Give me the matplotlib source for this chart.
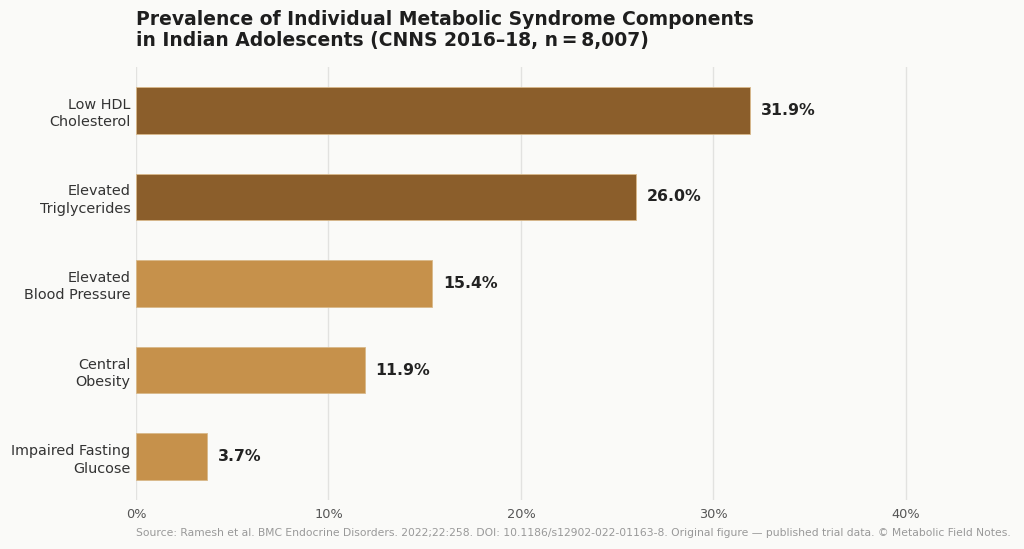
import matplotlib
matplotlib.use("Agg")
import matplotlib.pyplot as plt
import numpy as np

categories = ["Low HDL\nCholesterol", "Elevated\nTriglycerides", "Elevated\nBlood Pressure",
              "Central\nObesity", "Impaired Fasting\nGlucose"]
values = [31.9, 26.0, 15.4, 11.9, 3.7]
highlight = [True, True, False, False, False]
xticks = [0, 10, 20, 30, 40]

dark = "#8B5E2B"
light = "#C6914B"
bg = "#FAFAF8"

fig = plt.figure(figsize=(10.24, 5.49), dpi=100, facecolor=bg)
ax = fig.add_axes([136/1024, 1 - 500/549, 866/1024, 433/549], facecolor=bg)

y = np.arange(len(categories))
colors = [dark if h else light for h in highlight]
ax.barh(y, values, height=0.54, color=colors, edgecolor="#D9B98A", linewidth=0.6, zorder=3)

# value labels at bar ends
for yi, v in zip(y, values):
    ax.text(v + 0.55, yi, f"{v:.1f}%", va="center", ha="left",
            fontsize=11.3, fontweight="bold", color="#222222")

ax.set_ylim(4.5, -0.5)
ax.set_xlim(0, 45)
ax.set_yticks(y)
ax.set_yticklabels(categories, fontsize=10.4, color="#333333", linespacing=1.3)
ax.set_xticks(xticks)
ax.set_xticklabels([f"{t}%" for t in xticks], fontsize=9.3, color="#555555")
ax.tick_params(axis="both", length=0, pad=4)
ax.tick_params(axis="x", pad=5.5)
ax.grid(axis="x", color="#E2E2E0", linewidth=1, zorder=0)
for s in ax.spines.values():
    s.set_visible(False)

fig.text(136/1024, 1 - 10/549,
         "Prevalence of Individual Metabolic Syndrome Components\nin Indian Adolescents (CNNS 2016\u201318, n\u2009=\u20098,007)",
         ha="left", va="top", fontsize=13.5, fontweight="bold", color="#1E1E1E", linespacing=1.15)
fig.text(136/1024, 1 - 533/549,
         "Source: Ramesh et al. BMC Endocrine Disorders. 2022;22:258. DOI: 10.1186/s12902-022-01163-8. "
         "Original figure \u2014 published trial data. \u00a9 Metabolic Field Notes.",
         ha="left", va="center", fontsize=7.75, color="#999999")

fig.savefig("out.png", dpi=100, facecolor=bg)
